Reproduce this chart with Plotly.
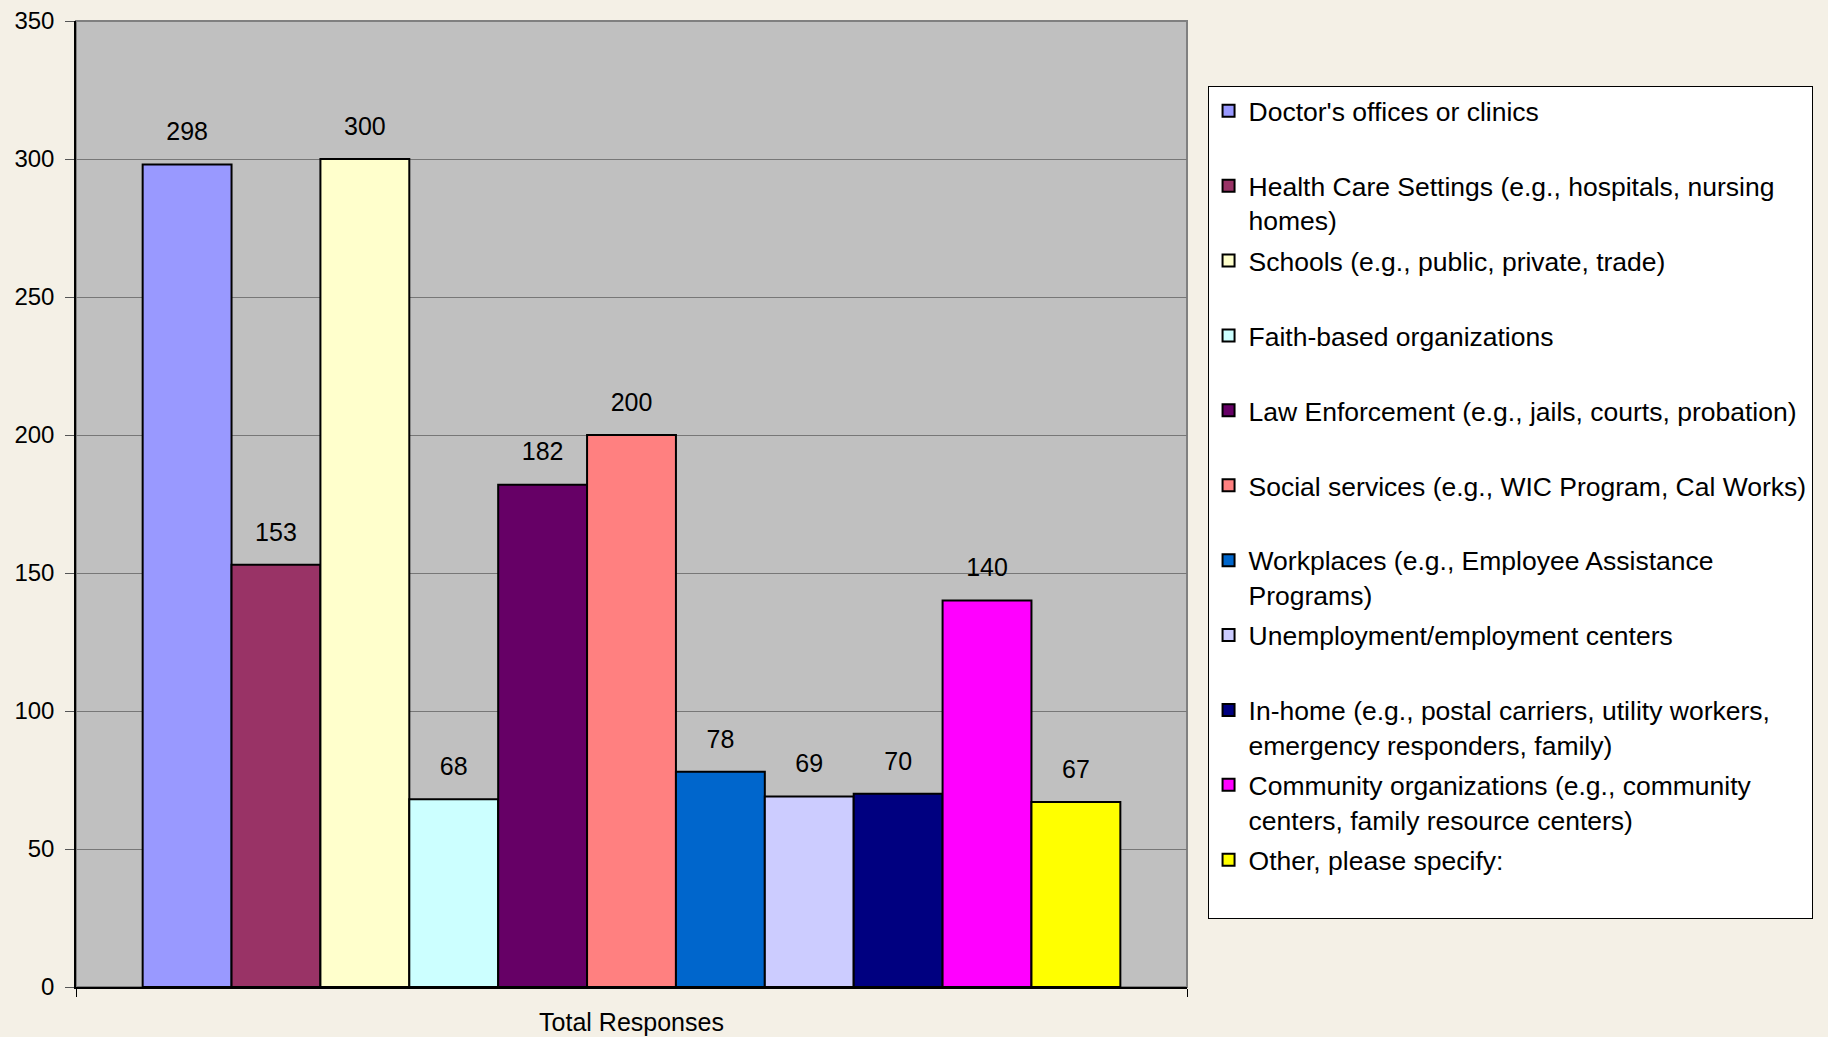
import plotly.graph_objects as go

categories = [
    "Doctor's offices or clinics",
    "Health Care Settings (e.g., hospitals, nursing<br>homes)",
    "Schools (e.g., public, private, trade)",
    "Faith-based organizations",
    "Law Enforcement (e.g., jails, courts, probation)",
    "Social services (e.g., WIC Program, Cal Works)",
    "Workplaces (e.g., Employee Assistance<br>Programs)",
    "Unemployment/employment centers",
    "In-home (e.g., postal carriers, utility workers,<br>emergency responders, family)",
    "Community organizations (e.g., community<br>centers, family resource centers)",
    "Other, please specify:",
]
values = [298, 153, 300, 68, 182, 200, 78, 69, 70, 140, 67]
colors = ["#9999FF", "#993366", "#FFFFCC", "#CCFFFF", "#660066", "#FF8080",
          "#0066CC", "#CCCCFF", "#000080", "#FF00FF", "#FFFF00"]
x_label = ["Total Responses"]
y_ticks = [0, 50, 100, 150, 200, 250, 300, 350]

FONT = "Liberation Sans, Arial, sans-serif"
BG = "#f4f0e6"

fig = go.Figure()
for i, (name, v, c) in enumerate(zip(categories, values, colors)):
    label = name if "<br>" in name else name + "<br>\u00a0"
    fig.add_trace(go.Bar(
        x=x_label, y=[v], name=label, legendgroup=f"g{i}",
        marker=dict(color=c, line=dict(color="black", width=2)),
        text=[v], textposition="outside",
        texttemplate="<span style='font-size:25px'>%{y}</span><br>\u00a0",
        textfont=dict(family=FONT, size=14, color="black"),
        cliponaxis=False,
    ))

fig.update_layout(
    width=1828, height=1037,
    margin=dict(l=76, r=641, t=21, b=50, autoexpand=False),
    paper_bgcolor=BG,
    plot_bgcolor="#c0c0c0",
    barmode="group", bargap=0.12, bargroupgap=0,
    font=dict(family=FONT, size=24, color="black"),
    showlegend=True,
    legend=dict(
        x=1.0185, y=0.9327, xanchor="left", yanchor="top",
        bgcolor="white", bordercolor="black", borderwidth=1,
        font=dict(family=FONT, size=26.5, color="black"),
        valign="top", tracegroupgap=3, traceorder="grouped",
    ),
    xaxis=dict(
        showline=True, linecolor="black", linewidth=2, automargin=False,
        ticks="outside", tickson="boundaries", ticklen=8, tickcolor="black",
        ticklabelstandoff=12,
        tickfont=dict(size=25), showgrid=False,
    ),
    yaxis=dict(
        range=[0, 350], tickvals=y_ticks, showline=True, linecolor="black", linewidth=1.5,
        automargin=False,
        ticks="outside", ticklen=9, tickcolor="#555555", ticklabelstandoff=6,
        gridcolor="#777777", gridwidth=1.2, zeroline=False,
        tickfont=dict(size=24),
    ),
    shapes=[dict(type="rect", xref="paper", yref="paper", x0=0, x1=1, y0=0, y1=1,
                 line=dict(color="#808080", width=2), layer="below")],
)

fig.write_html(
    "out.html",
    config={"displayModeBar": False},
    post_script=f"document.body.style.margin='0px';document.body.style.background='{BG}';",
)
